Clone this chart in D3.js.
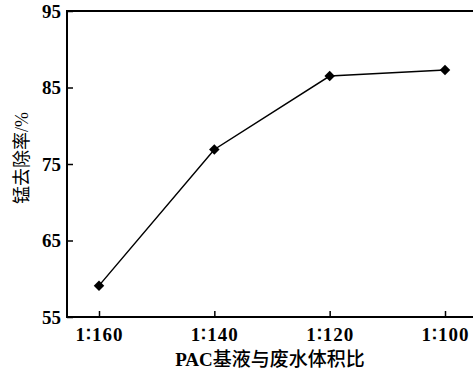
<!DOCTYPE html>
<html>
<head>
<meta charset="utf-8">
<script src="https://cdn.jsdelivr.net/npm/d3@7"></script>
<style>
  body { margin: 0; background: #fff; }
  svg { display: block; }
</style>
</head>
<body>
<svg id="chart"></svg>
<script>
// chart data
const ratios = ['1∶160', '1∶140', '1∶120', '1∶100'];
const removal = [59.1, 76.9, 86.5, 87.3];
const yTicks = [55, 65, 75, 85, 95];

const width = 473;
const height = 374;
const margin = { top: 11, right: 0, bottom: 57, left: 67 };

const svg = d3.select('#chart')
  .attr('width', width)
  .attr('height', height);

const innerWidth = width - margin.left - margin.right;
const innerHeight = height - margin.top - margin.bottom;

const x = d3.scalePoint()
  .domain(ratios)
  .range([32, 378]);

const y = d3.scaleLinear()
  .domain([55, 95])
  .range([innerHeight, 0]);

const g = svg.append('g')
  .attr('transform', `translate(${margin.left},${margin.top})`);

const tickFont = '"Liberation Serif", "Times New Roman", serif';

// x axis (ticks pointing inward)
const xAxis = g.append('g')
  .attr('transform', `translate(0,${innerHeight})`)
  .call(d3.axisBottom(x).tickSize(-6).tickPadding(11));
xAxis.select('.domain').remove();
xAxis.selectAll('line').attr('stroke', '#000').attr('stroke-width', 1.5);
xAxis.selectAll('text')
  .attr('font-family', tickFont)
  .attr('font-weight', 'bold')
  .attr('font-size', 19)
  .attr('letter-spacing', 1)
  .attr('fill', '#000');

// y axis
const yAxis = g.append('g')
  .call(d3.axisLeft(y).tickValues(yTicks).tickSize(-6).tickPadding(6));
yAxis.select('.domain').remove();
yAxis.selectAll('line').attr('stroke', '#000').attr('stroke-width', 1.5);
yAxis.selectAll('text')
  .attr('font-family', tickFont)
  .attr('font-weight', 'bold')
  .attr('font-size', 19)
  .attr('fill', '#000');

// frame: left, bottom and top lines
g.append('line')
  .attr('x1', 0).attr('x2', 0)
  .attr('y1', 0).attr('y2', innerHeight)
  .attr('stroke', '#000').attr('stroke-width', 2);
g.append('line')
  .attr('x1', -1).attr('x2', innerWidth)
  .attr('y1', innerHeight).attr('y2', innerHeight)
  .attr('stroke', '#000').attr('stroke-width', 2);
g.append('line')
  .attr('x1', -1).attr('x2', innerWidth)
  .attr('y1', 0).attr('y2', 0)
  .attr('stroke', '#000').attr('stroke-width', 2);

// line
const pts = ratios.map((r, i) => ({ r, v: removal[i] }));
g.append('path')
  .datum(pts)
  .attr('fill', 'none')
  .attr('stroke', '#000')
  .attr('stroke-width', 1.5)
  .attr('d', d3.line().x(d => x(d.r)).y(d => y(d.v)));

// diamond markers
g.selectAll('.pt')
  .data(pts)
  .join('path')
  .attr('class', 'pt')
  .attr('transform', d => `translate(${x(d.r)},${y(d.v)})`)
  .attr('d', d3.symbol(d3.symbolDiamond2, 70))
  .attr('fill', '#000');

// axis titles
const xt = svg.append('text')
  .attr('x', 270)
  .attr('y', 366)
  .attr('text-anchor', 'middle')
  .attr('font-family', '"Liberation Serif", "Noto Sans CJK SC", serif')
  .attr('font-size', 19);
xt.append('tspan').attr('font-weight', 'bold').text('PAC');
xt.append('tspan').attr('font-weight', 500).text('基液与废水体积比');

svg.append('text')
  .attr('transform', 'translate(28,158) rotate(-90)')
  .attr('text-anchor', 'middle')
  .attr('font-family', '"Liberation Serif", "Noto Sans CJK SC", serif')
  .attr('font-size', 18)
  .text('锰去除率/%');
</script>
</body>
</html>
